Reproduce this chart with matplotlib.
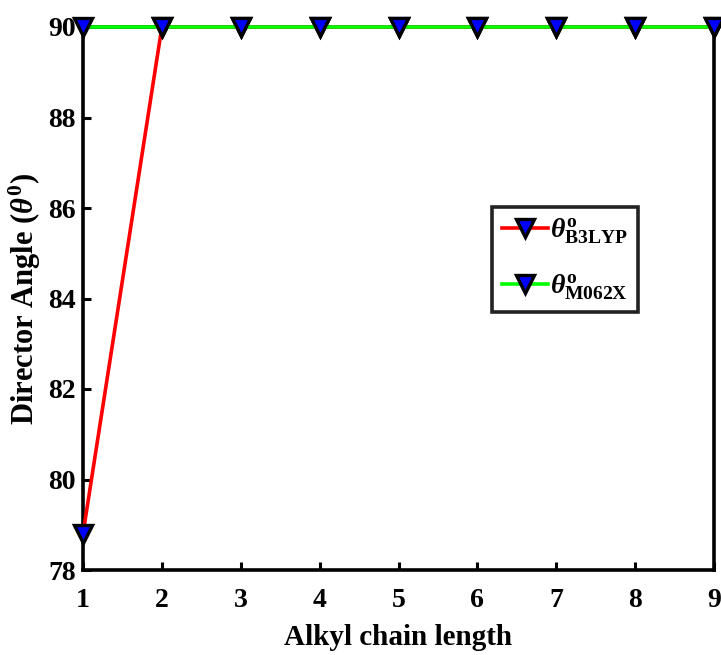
import matplotlib.pyplot as plt
import numpy as np

plt.rcParams['font.family'] = ['Liberation Serif', 'DejaVu Serif']
plt.rcParams['font.weight'] = 'bold'
plt.rcParams['mathtext.fontset'] = 'custom'
plt.rcParams['mathtext.rm'] = 'Liberation Serif'
plt.rcParams['mathtext.it'] = 'Liberation Serif:italic'
plt.rcParams['mathtext.bf'] = 'Liberation Serif:bold'

chain_length = [1, 2, 3, 4, 5, 6, 7, 8, 9]
theta_b3lyp = [78.8, 90, 90, 90, 90, 90, 90, 90, 90]
theta_m062x = [90, 90, 90, 90, 90, 90, 90, 90, 90]
y_ticks = [78, 80, 82, 84, 86, 88, 90]

fig = plt.figure(figsize=(7.21, 6.55), dpi=100)
ax = fig.add_axes([83 / 721, 1 - 570 / 655, (714 - 83) / 721, (570 - 27) / 655])

marker_style = dict(marker='v', markersize=13, markerfacecolor='#0000ff',
                    markeredgecolor='black', markeredgewidth=2.4, clip_on=False)
ax.plot(chain_length, theta_b3lyp, color='#ff0000', linewidth=2.6,
        label=r'$\theta^{\mathbf{o}}_{\mathbf{B3LYP}}$', zorder=3, **marker_style)
ax.plot(chain_length, theta_m062x, color='#00ff00', linewidth=2.6,
        label=r'$\theta^{\mathbf{o}}_{\mathbf{M062X}}$', zorder=4, **marker_style)

ax.set_xlim(1, 9)
ax.set_ylim(78, 90)
ax.set_xticks(chain_length)
ax.set_yticks(y_ticks)
ax.tick_params(direction='in', length=6, width=2.2, labelsize=20)
ax.tick_params(axis='x', pad=13)
ax.tick_params(axis='y', pad=5)
for lbl in ax.get_xticklabels() + ax.get_yticklabels():
    lbl.set_fontweight('bold')
for sp in ax.spines.values():
    sp.set_linewidth(2.6)

ax.set_xlabel('Alkyl chain length', fontsize=21, fontweight='bold', labelpad=8)
ax.set_ylabel(r'Director Angle ($\theta^{\mathbf{0}}$)', fontsize=22, fontweight='bold', labelpad=4)

leg = ax.legend(loc='upper left', bbox_to_anchor=((492 - 83) / 631, (570 - 207) / 543),
                fontsize=20, frameon=True, fancybox=False, handlelength=1.65,
                handletextpad=0.1, borderpad=0.35, borderaxespad=0,
                labelspacing=0.95, framealpha=1)
leg.get_frame().set_edgecolor('#222222')
leg.get_frame().set_linewidth(2.6)

fig.savefig('out.png', dpi=100)
